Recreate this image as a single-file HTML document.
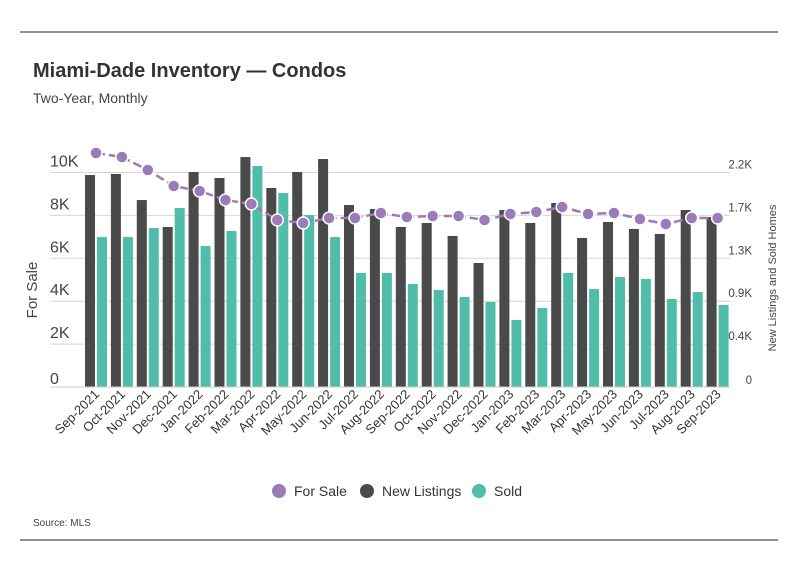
<!DOCTYPE html>
<html><head><meta charset="utf-8"><style>
body{margin:0;background:#fff;font-family:"Liberation Sans",sans-serif;}
svg text{font-family:"Liberation Sans",sans-serif;}
</style></head><body>
<svg id="chart" width="798" height="575" xmlns="http://www.w3.org/2000/svg">
<line x1="20" y1="32" x2="778" y2="32" stroke="#222" stroke-width="1"/>
<line x1="20" y1="540" x2="778" y2="540" stroke="#222" stroke-width="1"/>
<text x="33" y="77" font-size="20" font-weight="bold" fill="#333">Miami-Dade Inventory — Condos</text>
<text x="33" y="103" font-size="14" fill="#444">Two-Year, Monthly</text>
<g id="grid"></g>
<g id="bars"></g>
<g id="line"></g>
<g id="axes"></g>
<text transform="translate(37,290) rotate(-90)" text-anchor="middle" font-size="15" fill="#444">For Sale</text>
<text transform="translate(776,278) rotate(-90)" text-anchor="middle" font-size="11" fill="#444">New Listings and Sold Homes</text>
<g>
<circle cx="279" cy="491" r="7" fill="#9b7cb8"/>
<text x="294" y="496" font-size="14" fill="#333">For Sale</text>
<circle cx="367" cy="491" r="7" fill="#4a4a4a"/>
<text x="382" y="496" font-size="14" fill="#333">New Listings</text>
<circle cx="479" cy="491" r="7" fill="#4fbdaa"/>
<text x="494" y="496" font-size="14" fill="#333">Sold</text>
</g>
<text x="33" y="526" font-size="10" fill="#444">Source: MLS</text>
</svg>
<script>
const categories=["Sep-2021","Oct-2021","Nov-2021","Dec-2021","Jan-2022","Feb-2022","Mar-2022","Apr-2022","May-2022","Jun-2022","Jul-2022","Aug-2022","Sep-2022","Oct-2022","Nov-2022","Dec-2022","Jan-2023","Feb-2023","Mar-2023","Apr-2023","May-2023","Jun-2023","Jul-2023","Aug-2023","Sep-2023"];
const forSale=[10909,10723,10117,9371,9138,8718,8531,7786,7646,7879,7879,8112,7925,7972,7972,7786,8065,8159,8392,8065,8112,7832,7599,7879,7879];
const newListings=[2125,2135,1874,1604,2155,2095,2305,1995,2155,2285,1824,1784,1604,1644,1514,1243,1774,1644,1844,1494,1654,1584,1534,1774,1704];
const sold=[1503,1503,1594,1794,1413,1564,2215,1944,1724,1503,1143,1143,1032,972,902,852,672,792,1143,982,1103,1083,882,952,822];
const leftTicks=[0,2000,4000,6000,8000,10000];
const leftTickLabels=["0","2K","4K","6K","8K","10K"];
const rightTicks=[0,430,860,1290,1720,2150];
const rightTickLabels=["0","0.4K","0.9K","1.3K","1.7K","2.2K"];
const NS="http://www.w3.org/2000/svg";
const base=387, plotTop=172.5;
const yL=v=>base-(v/10000)*(base-plotTop);
const yR=v=>base-(v/2150)*(base-plotTop);
const xC=i=>96+i*25.9;
function mk(tag,attrs,parent){const e=document.createElementNS(NS,tag);for(const k in attrs)e.setAttribute(k,attrs[k]);parent.appendChild(e);return e;}
const grid=document.getElementById('grid'),bars=document.getElementById('bars'),line=document.getElementById('line'),axes=document.getElementById('axes');
leftTicks.forEach((t,i)=>{
  const g=mk('line',{x1:50,x2:730,y1:yL(t),y2:yL(t),stroke:'#d6d6d6','stroke-width':1},grid);
  
  
  const lt=mk('text',{x:50,y:yL(t)+(i==0?-3:-6),'font-size':16,fill:'#444'},axes);lt.textContent=leftTickLabels[i];
  
  
});
rightTicks.forEach((t,i)=>{
  const rt=mk('text',{x:752,y:yR(t)+(i==0?-3:-4),'font-size':11.5,fill:'#444','text-anchor':'end'},axes);rt.textContent=rightTickLabels[i];
  
  
});
categories.forEach((c,i)=>{
  const x=xC(i);
  const b1=mk('rect',{x:x-11,y:yR(newListings[i]),width:10,height:base-yR(newListings[i]),fill:'#4a4a4a'},bars);
  
  
  const b2=mk('rect',{x:x+1,y:yR(sold[i]),width:10,height:base-yR(sold[i]),fill:'#4fbdaa'},bars);
  
  
  const t=mk('text',{transform:`translate(${x+4},${base+8}) rotate(-45)`,'text-anchor':'end','font-size':13,fill:'#333'},axes);t.textContent=c;
  
  
});
const ax=mk('line',{x1:50,x2:730,y1:base,y2:base,stroke:'#ccc','stroke-width':1},axes);


const pl=mk('polyline',{points:forSale.map((v,i)=>xC(i)+','+yL(v)).join(' '),fill:'none',stroke:'#9b7cb8','stroke-width':2.5,'stroke-dasharray':'9 4'},line);


forSale.forEach((v,i)=>{
  const p=mk('circle',{cx:xC(i),cy:yL(v),r:6,fill:'#9b7cb8',stroke:'#fff','stroke-width':1.5},line);
  
  
});
</script>
</body></html>
